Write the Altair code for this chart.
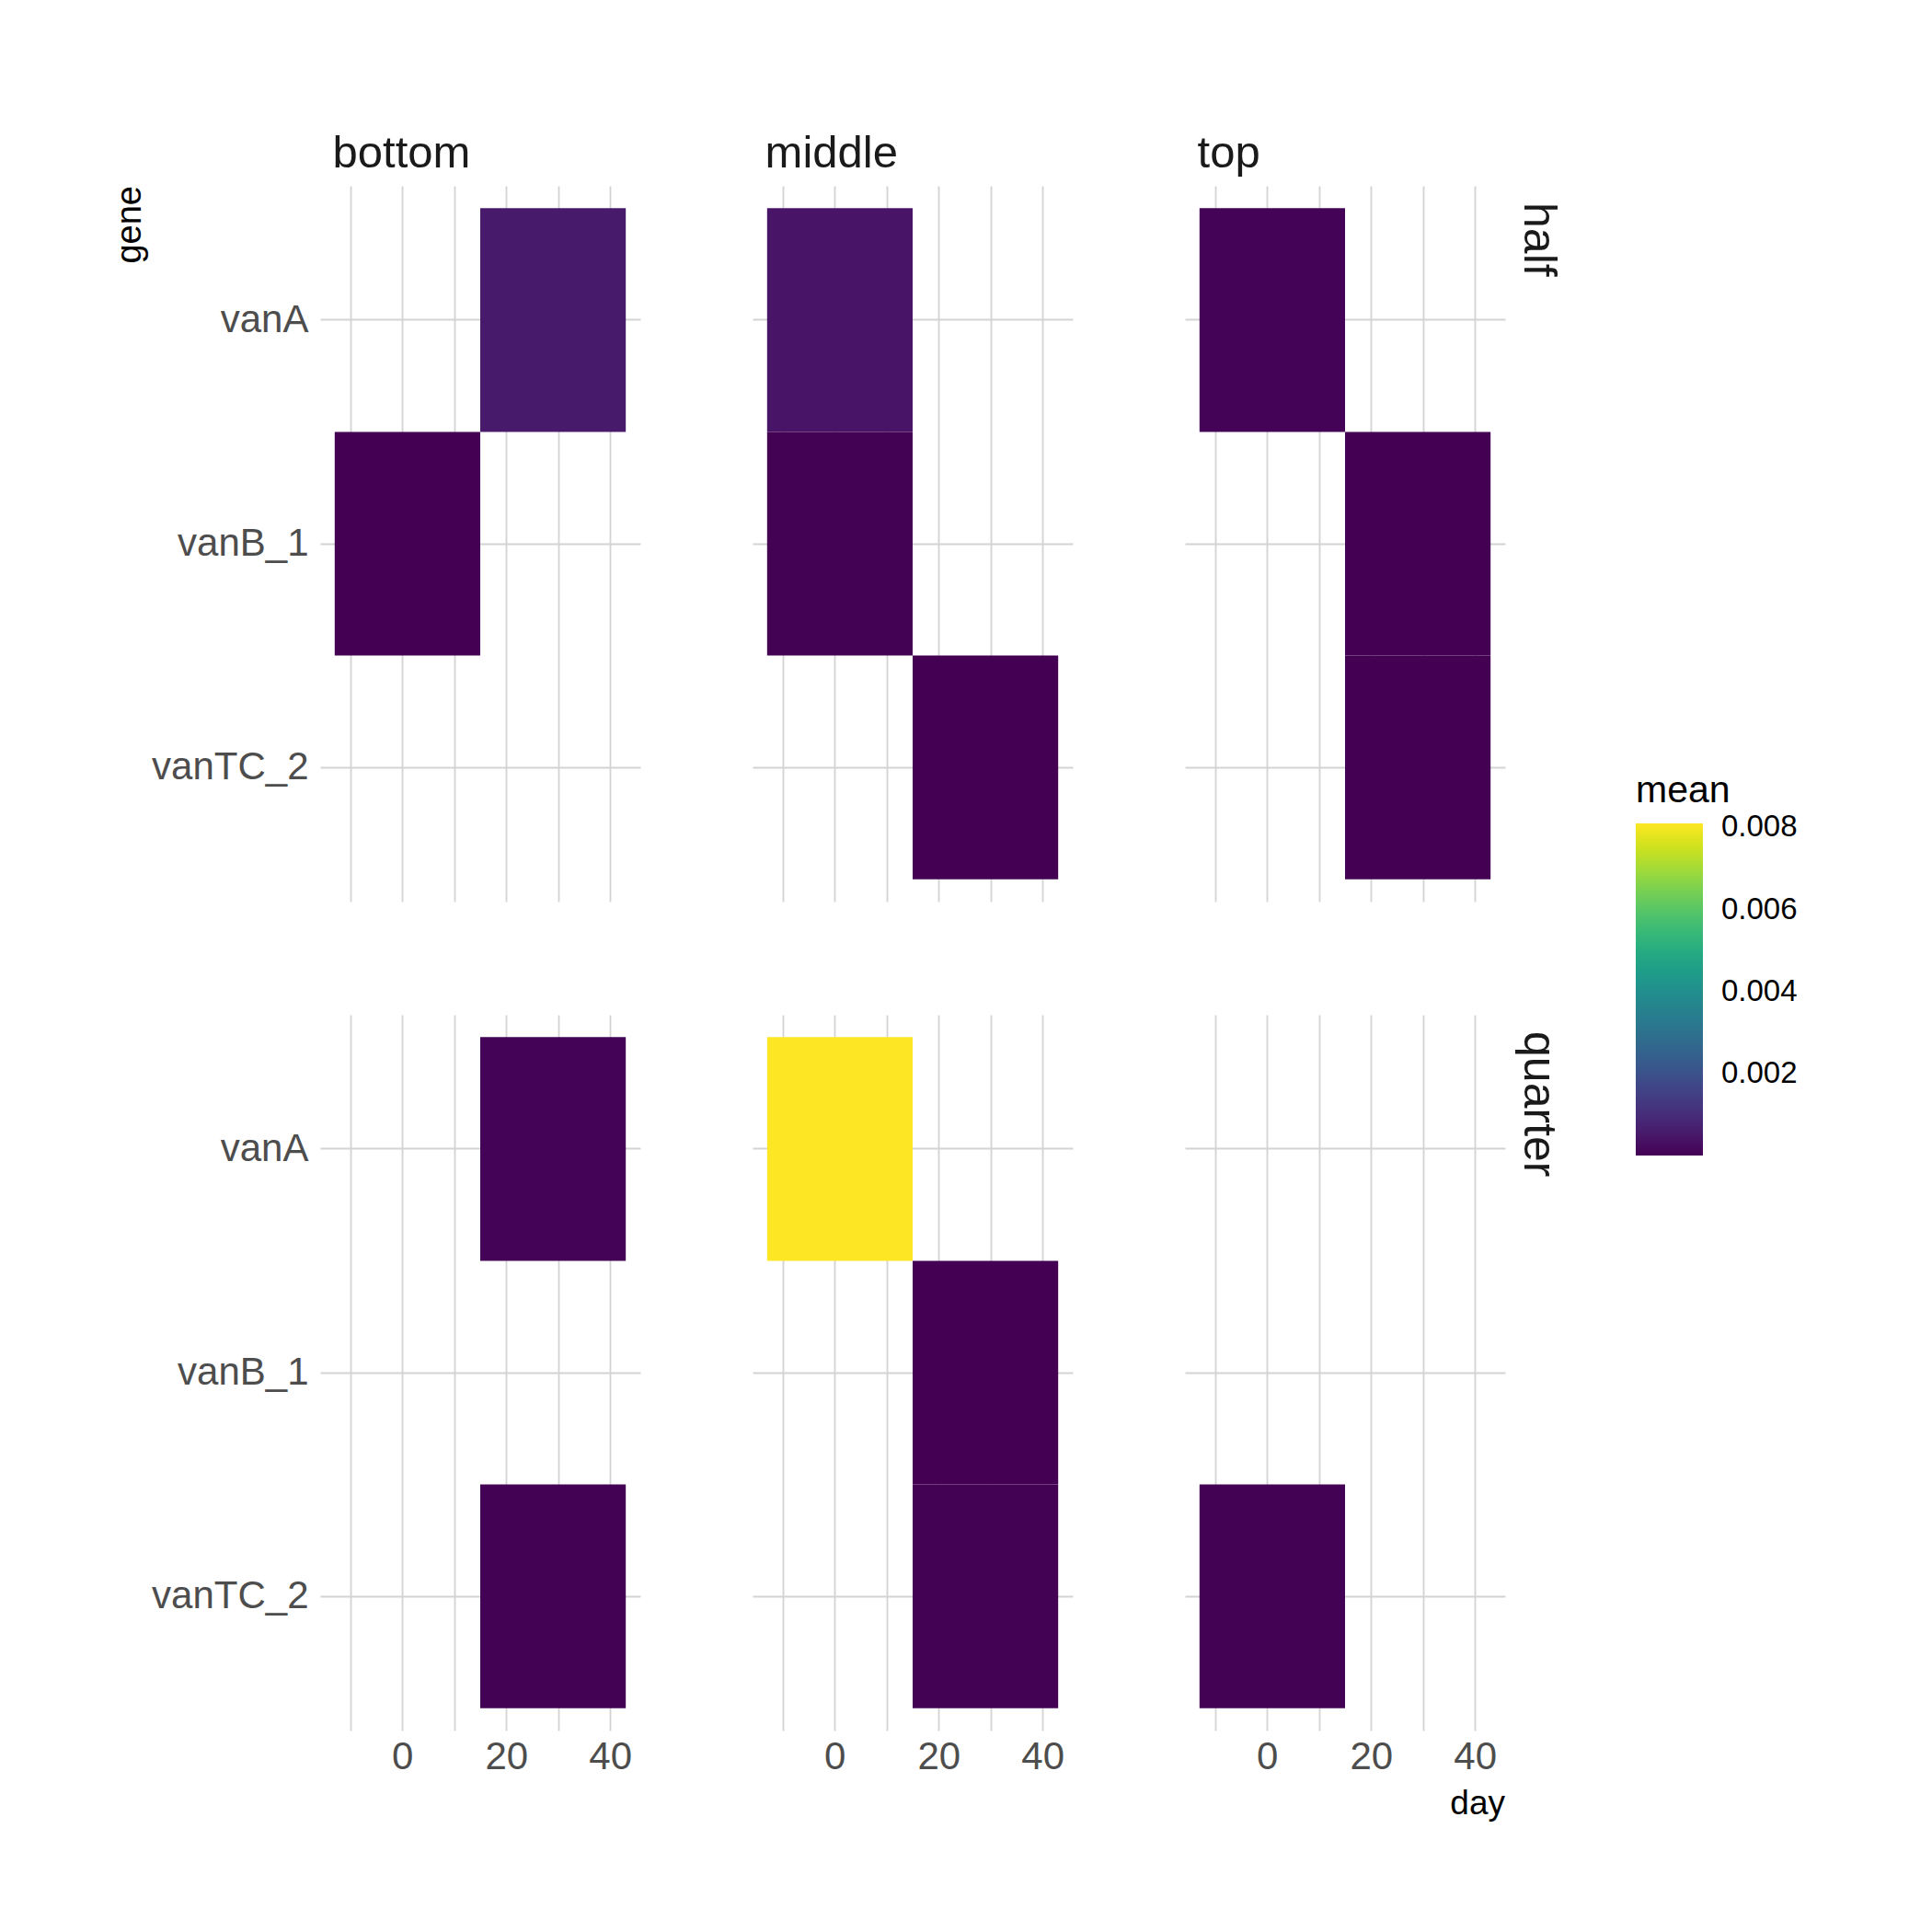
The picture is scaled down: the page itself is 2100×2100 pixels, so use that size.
import altair as alt
import pandas as pd

# ---- data ----
fraction = ["half", "half", "half", "half", "half", "half", "half", "half",
            "quarter", "quarter", "quarter", "quarter", "quarter", "quarter"]
position = ["bottom", "bottom", "middle", "middle", "middle", "top", "top", "top",
            "bottom", "bottom", "middle", "middle", "middle", "top"]
gene = ["vanA", "vanB_1", "vanA", "vanB_1", "vanTC_2", "vanA", "vanB_1", "vanTC_2",
        "vanA", "vanTC_2", "vanA", "vanB_1", "vanTC_2", "vanTC_2"]
day = [29, 1, 1, 1, 29, 1, 29, 29,
       29, 29, 1, 29, 29, 1]
mean = [0.00055, 0.00002, 0.00042, 0.00003, 0.00002, 0.00005, 0.00001, 0.00002,
        0.00005, 0.00003, 0.00810, 0.00002, 0.00003, 0.00004]

gene_order = ["vanA", "vanB_1", "vanTC_2"]
position_order = ["bottom", "middle", "top"]
fraction_order = ["half", "quarter"]
x_ticks = [-10, 0, 10, 20, 30, 40]
legend_ticks = [0.002, 0.004, 0.006, 0.008]
tile_width = 28

df = pd.DataFrame({"fraction": fraction, "position": position, "gene": gene,
                   "day": day, "mean": mean})
df["x0"] = df["day"] - tile_width / 2
df["x1"] = df["day"] + tile_width / 2

FONT = "Liberation Sans"
# zero-width space keeps the following spaces from being trimmed
PAD = "'\u200b\u00a0' + datum.value"

base = alt.Chart(df).mark_rect().encode(
    x=alt.X("x0:Q",
            scale=alt.Scale(domain=[-15.8, 45.8], nice=False, zero=False),
            axis=alt.Axis(title=None, values=x_ticks,
                          labelExpr="datum.value % 20 == 0 ? datum.label : ''",
                          grid=True, gridColor="#D3D3D3", gridWidth=1.8,
                          domain=False, ticks=False, zindex=0,
                          labelFontSize=42, labelColor="#4D4D4D", labelFont=FONT,
                          labelPadding=8)),
    x2="x1:Q",
    y=alt.Y("gene:O", sort=gene_order,
            scale=alt.Scale(paddingInner=0, paddingOuter=0.1),
            axis=alt.Axis(title=None, grid=True, gridColor="#D3D3D3",
                          gridWidth=1.8, bandPosition=0.5, zindex=0,
                          domain=False, ticks=False,
                          labelFontSize=42, labelColor="#4D4D4D", labelFont=FONT,
                          labelPadding=13)),
    color=alt.Color("mean:Q",
                    scale=alt.Scale(scheme="viridis",
                                    domain=[min(mean), max(mean)], nice=False,
                                    zero=False),
                    legend=alt.Legend(title="mean", values=legend_ticks,
                                      format=".3f",
                                      orient="none", legendX=1430, legendY=638,
                                      gradientLength=361, gradientThickness=73,
                                      gradientStrokeWidth=0,
                                      labelFontSize=33, labelFont=FONT,
                                      labelColor="#000000", labelOffset=20,
                                      titleFontSize=41, titleFont=FONT,
                                      titleFontWeight="normal",
                                      titleColor="#000000", titlePadding=14)),
).properties(width=348, height=778)

chart = base.facet(
    column=alt.Column("position:N", sort=position_order, title="day",
                      header=alt.Header(labelFontSize=49, labelFont=FONT,
                                        labelColor="#1A1A1A",
                                        labelAnchor="start", labelAlign="left",
                                        labelExpr=PAD,
                                        labelPadding=10,
                                        titleOrient="bottom", titleAnchor="end",
                                        titleFontSize=37, titleFont=FONT,
                                        titleFontWeight="normal",
                                        titleColor="#000000", titlePadding=3)),
    row=alt.Row("fraction:N", sort=fraction_order, title="gene",
                header=alt.Header(labelFontSize=50, labelFont=FONT,
                                  labelColor="#1A1A1A",
                                  labelOrient="right", labelAngle=90,
                                  labelAnchor="start", labelAlign="left",
                                  labelExpr="'\u200b\u00a0\u200a' + datum.value",
                                  labelPadding=11,
                                  titleOrient="left", titleAnchor="end",
                                  titleAngle=-90,
                                  titleFontSize=38, titleFont=FONT,
                                  titleFontWeight="normal",
                                  titleColor="#000000", titlePadding=-45)),
    spacing={"column": 122, "row": 123},
).properties(
    padding={"left": 115, "top": 135, "right": 20, "bottom": 20},
    background="white",
).configure_view(stroke=None)

chart.save("out.html", embed_options={"renderer": "svg", "actions": False})
